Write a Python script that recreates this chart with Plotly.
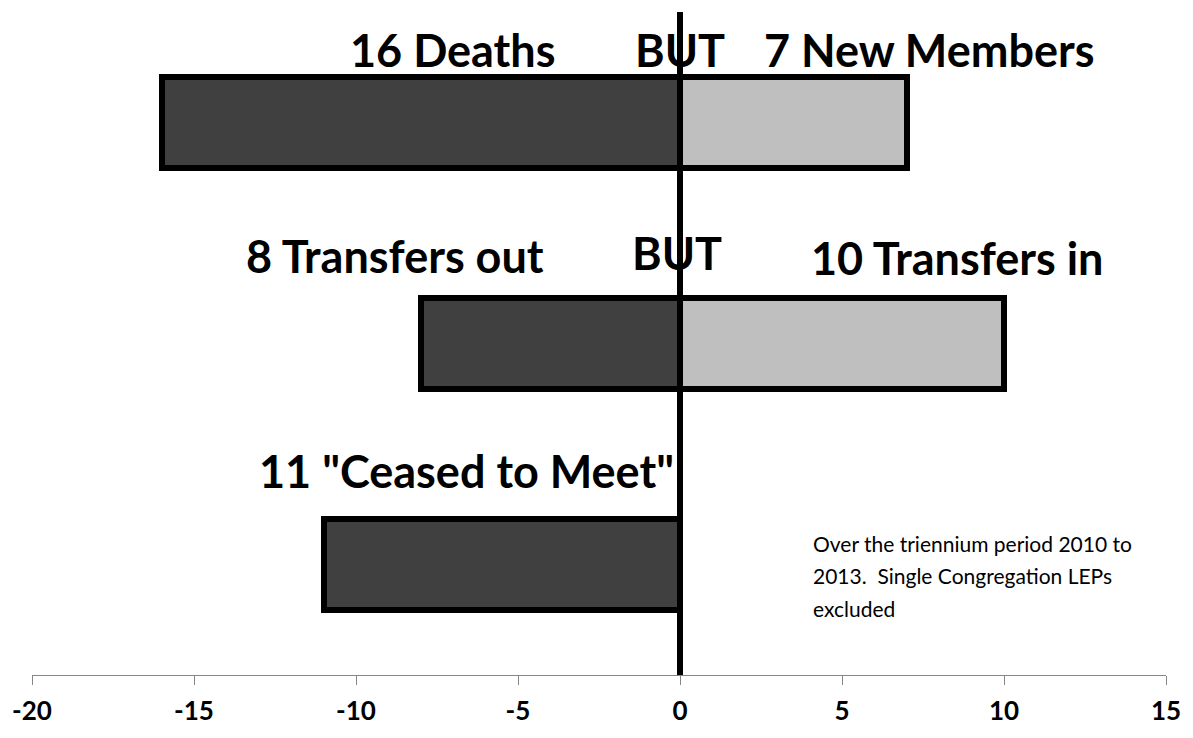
import plotly.graph_objects as go

# Data
rows = ["Ceased to Meet", "Transfers", "Deaths / New Members"]
row_pos = [0, 1, 2]
losses = [-11, -8, -16]
gains = [None, 10, 7]
tick_vals = [-20, -15, -10, -5, 0, 5, 10, 15]
tick_text = ["-20", "-15", "-10", "-5", "0", "5", "10", "15"]

labels_left = ['11 "Ceased to Meet"', "8 Transfers out", "16 Deaths"]
labels_right = [None, "10 Transfers in", "7 New Members"]
note_lines = ["Over the triennium period 2010 to",
              "2013.  Single Congregation LEPs",
              "excluded"]

FONT = "Lato"

fig = go.Figure()
fig.add_trace(go.Bar(
    y=row_pos, x=losses, orientation="h", width=0.41,
    marker=dict(color="#404040", line=dict(color="black", width=6)),
    showlegend=False, hoverinfo="skip"))
fig.add_trace(go.Bar(
    y=row_pos, x=gains, orientation="h", width=0.41,
    marker=dict(color="#BFBFBF", line=dict(color="black", width=6)),
    showlegend=False, hoverinfo="skip"))

# zero line
fig.add_shape(type="line", x0=0, x1=0, y0=-0.5, y1=2.5, xref="x", yref="y",
              line=dict(color="black", width=6), layer="above")

big = dict(family=FONT, size=45, color="black", weight="bold")
ann = []
# row 1
ann.append(dict(x=-7.0, y=2.33, text=labels_left[2]))
ann.append(dict(x=0.0, y=2.33, text="BUT"))
ann.append(dict(x=7.7, y=2.33, text=labels_right[2]))
# row 2
ann.append(dict(x=-8.8, y=1.395, text=labels_left[1]))
ann.append(dict(x=-0.1, y=1.41, text="BUT"))
ann.append(dict(x=8.55, y=1.385, text=labels_right[1]))
# row 3
ann.append(dict(x=-6.6, y=0.425, text=labels_left[0]))
for a in ann:
    fig.add_annotation(xref="x", yref="y", showarrow=False, font=big,
                       xanchor="center", yanchor="middle", **a)

note_y = [0.096, -0.05, -0.197]
for t, yy in zip(note_lines, note_y):
    fig.add_annotation(xref="x", yref="y", x=4.05, y=yy, text=t, showarrow=False,
                       xanchor="left", yanchor="middle",
                       font=dict(family=FONT, size=21, color="black"))

fig.update_layout(
    width=1193, height=738,
    margin=dict(l=29, r=24, t=12, b=49),
    paper_bgcolor="white", plot_bgcolor="white",
    barmode="overlay",
    bargap=0,
)
fig.update_xaxes(
    range=[-20, 15], tickmode="array", tickvals=tick_vals,
    ticktext=["<b>%s</b>" % t for t in tick_text],
    showgrid=False, zeroline=False, showline=True, linecolor="#868686", linewidth=1,
    ticks="outside", ticklen=9, tickcolor="#868686", tickwidth=1,
    tickfont=dict(family=FONT, size=26, color="black", weight="bold"),
    ticklabelstandoff=4,
)
fig.update_yaxes(range=[-0.5, 2.5], visible=False, showgrid=False, zeroline=False)

fig.write_html("out.html", config={"displayModeBar": False},
               post_script="document.body.style.margin='0';document.body.style.padding='0';")
